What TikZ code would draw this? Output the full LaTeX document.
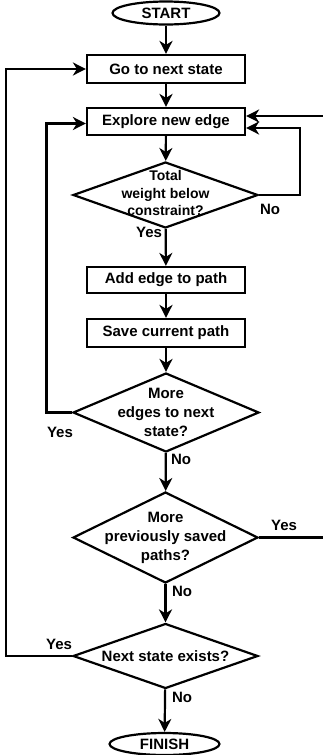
\documentclass[tikz,border=0pt]{standalone}
\usepackage{fontspec}
\setmainfont{Liberation Sans}
\usetikzlibrary{shapes.geometric,arrows.meta}
\newcommand\flowfont{\fontsize{15}{19}\selectfont\bfseries}
\newcommand\smallflowfont{\fontsize{14}{17.5}\selectfont\bfseries}
\tikzset{
  base/.style={draw, line width=2.2pt, font=\flowfont},
  terminal/.style={base, ellipse, inner sep=0pt},
  process/.style={base, rectangle, minimum width=158pt, inner sep=0pt},
  decision/.style={base, diamond, inner sep=0pt},
  dtext/.style={align=center, font=\flowfont, inner sep=0pt},
  flow/.style={line width=2.2pt, -{Stealth[length=13pt,width=13pt,inset=4pt]}},
  lbl/.style={font=\flowfont, inner sep=0pt},
}
\begin{document}
\begin{tikzpicture}[x=1pt,y=-1pt]
    \useasboundingbox (0,0) rectangle (323,755);
    % main column
    \node[terminal, minimum width=107pt, minimum height=23pt] (start) at (166,13) {START};
    \node[process, minimum height=28pt] (go) at (166,69) {Go to next state};
    \node[process, minimum height=27pt] (explore) at (166,121.5) {Explore new edge};
    \node[decision, minimum width=185pt, minimum height=66pt,
      label={[dtext,font=\smallflowfont,yshift=2pt]center:Total\\weight below\\constraint?}] (weight) at (165.5,195) {};
    \node[process, minimum height=26pt] (add) at (166,280) {Add edge to path};
    \node[process, minimum height=28pt] (save) at (166,333) {Save current path};
    \node[decision, minimum width=186pt, minimum height=79pt,
      label={[dtext]center:More\\edges to next\\state?}] (moreedges) at (166,412.5) {};
    \node[decision, minimum width=185pt, minimum height=91pt,
      label={[dtext]center:More\\previously saved\\paths?}] (morepaths) at (165.5,537.5) {};
    \node[decision, minimum width=185pt, minimum height=65pt,
      label={[dtext]center:Next state exists?}] (nextstate) at (165.5,656) {};
    \node[terminal, minimum width=110pt, minimum height=22pt] (finish) at (164.5,744) {FINISH};

    \draw[flow] (start) -- (go);
    \draw[flow] (go) -- (explore);
    \draw[flow] (explore) -- (weight);
    \draw[flow] (weight) -- (add);
    \draw[flow] (add) -- (save);
    \draw[flow] (save) -- (moreedges);
    \draw[flow] (moreedges) -- (morepaths);
    \draw[flow] (morepaths) -- (nextstate);
    \draw[flow] (nextstate) -- (finish);

    % loops back
    \draw[flow] (weight.east) -- ++(41,0) |- ([yshift=-6.5pt]explore.east);
    \draw[flow] (moreedges.west) -- ++(-25.5,0) |- ([yshift=-2pt]explore.west);
    \draw[flow] (morepaths.east) -- ++(75,0) |- ([yshift=5.5pt]explore.east);
    \draw[flow] (nextstate.west) -- ++(-66,0) |- (go.west);

    % answers
    \node[lbl] (no1) at (270,209) {No};
    \node[lbl] (yes1) at (149,232) {Yes};
    \node[lbl] (yes2) at (60,432) {Yes};
    \node[lbl] (no2) at (181,459) {No};
    \node[lbl] (yes3) at (284,525) {Yes};
    \node[lbl] (no3) at (182,591) {No};
    \node[lbl] (yes4) at (59,644) {Yes};
    \node[lbl] (no4) at (182,697) {No};
\end{tikzpicture}
\end{document}
